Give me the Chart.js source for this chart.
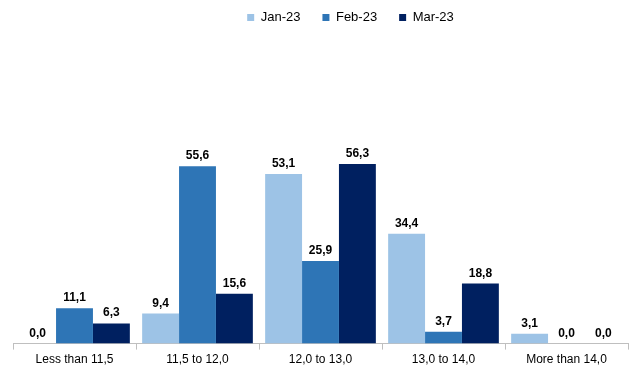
<!DOCTYPE html>
<html>
<head>
<meta charset="utf-8">
<script src="https://cdn.jsdelivr.net/npm/chart.js@4.4.1/dist/chart.umd.min.js"></script>
<style>
  html, body { margin: 0; padding: 0; background: #fff; }
  #wrap { width: 631px; height: 367px; }
</style>
</head>
<body>
<div id="wrap"><canvas id="distChart"></canvas></div>
<script>
const categories = ["Less than 11,5", "11,5 to 12,0", "12,0 to 13,0", "13,0 to 14,0", "More than 14,0"];
const jan23 = [0.0, 9.4, 53.1, 34.4, 3.1];
const feb23 = [11.1, 55.6, 25.9, 3.7, 0.0];
const mar23 = [6.3, 15.6, 56.3, 18.8, 0.0];

const fmt = v => v.toFixed(1).replace(".", ",");
const FONT = "'Liberation Sans', Arial, sans-serif";

// value labels above each bar
const barLabels = {
  id: "barLabels",
  afterDatasetsDraw(chart) {
    const ctx = chart.ctx;
    ctx.save();
    ctx.font = "bold 12px " + FONT;
    ctx.fillStyle = "#000";
    ctx.textAlign = "center";
    ctx.textBaseline = "alphabetic";
    chart.data.datasets.forEach((ds, i) => {
      chart.getDatasetMeta(i).data.forEach((bar, j) => {
        ctx.fillText(fmt(ds.data[j]), bar.x, bar.y - 7);
      });
    });
    ctx.restore();
  }
};

// nudge the legend a bit to the right
const legendShift = {
  id: "legendShift",
  afterLayout(chart) {
    chart.legend.left += 30;
    chart.legend.right += 30;
  }
};

new Chart(document.getElementById("distChart"), {
  type: "bar",
  data: {
    labels: categories,
    datasets: [
      { label: "Jan-23", data: jan23, backgroundColor: "#9dc3e6" },
      { label: "Feb-23", data: feb23, backgroundColor: "#2e75b6" },
      { label: "Mar-23", data: mar23, backgroundColor: "#002060" }
    ]
  },
  options: {
    responsive: true,
    maintainAspectRatio: false,
    animation: false,
    layout: { padding: { left: 13, right: 3, top: -11, bottom: -3 } },
    datasets: { bar: { categoryPercentage: 0.9, barPercentage: 1.0 } },
    plugins: {
      legend: {
        position: "top",
        labels: {
          boxWidth: 7,
          boxHeight: 7,
          padding: 22,
          color: "#000",
          font: { family: FONT, size: 13 }
        }
      },
      tooltip: { enabled: false }
    },
    scales: {
      x: {
        grid: {
          offset: true,
          drawOnChartArea: false,
          drawTicks: true,
          tickLength: 6,
          color: "#bfbfbf"
        },
        border: { color: "#bfbfbf" },
        ticks: {
          padding: 3,
          color: "#000",
          font: { family: FONT, size: 12 }
        }
      },
      y: {
        display: false,
        min: 0,
        max: 97
      }
    }
  },
  plugins: [barLabels, legendShift]
});
</script>
</body>
</html>
